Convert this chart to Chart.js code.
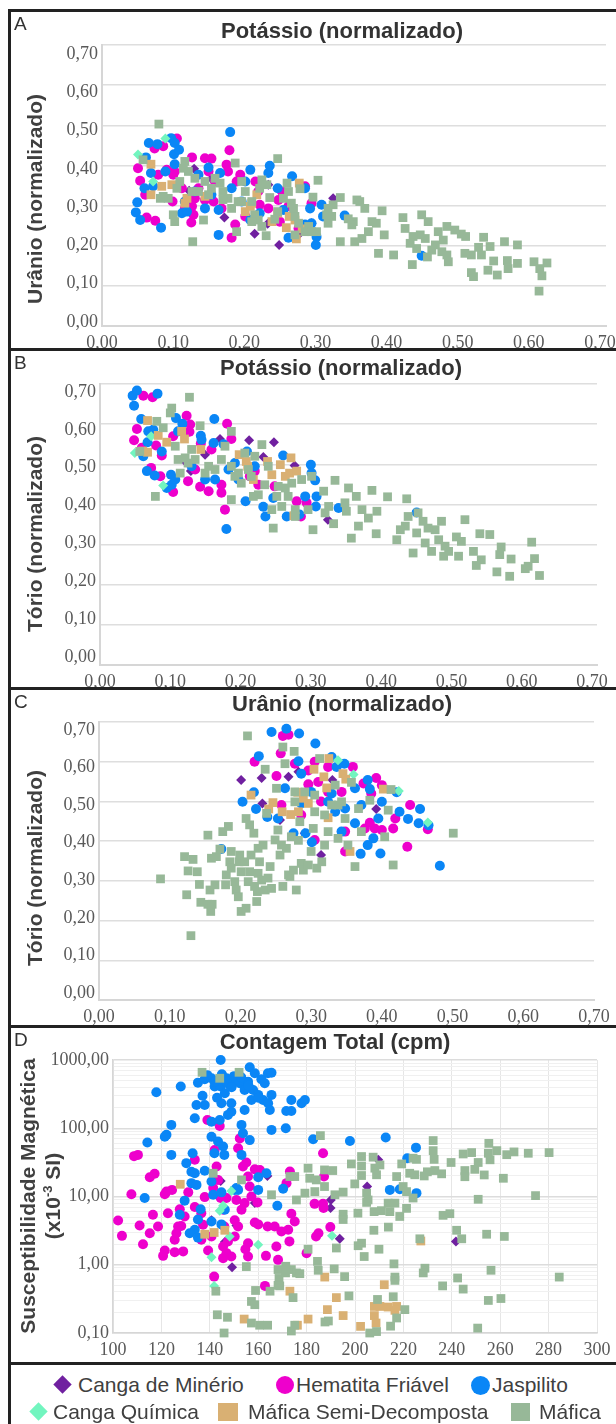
<!DOCTYPE html>
<html><head><meta charset="utf-8">
<script src="https://cdn.jsdelivr.net/npm/chart.js@4.4.0/dist/chart.umd.min.js"></script>
<style>
html,body{margin:0;padding:0;background:#fff;}
body{width:616px;height:1424px;overflow:hidden;position:relative;}
canvas{position:absolute;left:0;}
.bar{position:absolute;background:#222;z-index:5;}
.ttl{position:absolute;font:bold 22px "Liberation Sans",Arial,sans-serif;color:#333;white-space:nowrap;transform:translate(-50%,-50%);z-index:6;}
.ytl{position:absolute;font:bold 21px "Liberation Sans",Arial,sans-serif;color:#404040;white-space:nowrap;transform:translate(-50%,-50%) rotate(-90deg);text-align:center;z-index:6;}
.let{position:absolute;font:19px "Liberation Sans",Arial,sans-serif;color:#333;z-index:6;}
.lt{position:absolute;font:21px "Liberation Sans",Arial,sans-serif;color:#404040;white-space:nowrap;line-height:24px;z-index:6;}
.mk{position:absolute;z-index:6;}
</style></head><body>

<div class="bar" style="left:8px;top:9px;width:620px;height:3px"></div>
<div class="bar" style="left:8px;top:9px;width:3px;height:1420px"></div>
<div class="bar" style="left:8px;top:348px;width:620px;height:3px"></div>
<div class="bar" style="left:8px;top:687px;width:620px;height:3px"></div>
<div class="bar" style="left:8px;top:1025px;width:620px;height:3px"></div>
<div class="bar" style="left:8px;top:1362px;width:620px;height:3px"></div>

<canvas id="cA" width="640" height="344" style="top:12px;width:640px;height:344px"></canvas>
<canvas id="cB" width="640" height="340" style="top:351px;width:640px;height:340px"></canvas>
<canvas id="cC" width="640" height="340" style="top:690px;width:640px;height:340px"></canvas>
<canvas id="cD" width="640" height="338" style="top:1028px;width:640px;height:338px"></canvas>

<div class="let" style="left:14px;top:13px">A</div>
<div class="let" style="left:14px;top:352px">B</div>
<div class="let" style="left:14px;top:691px">C</div>
<div class="let" style="left:14px;top:1029px">D</div>

<div class="ttl" style="left:342px;top:31px">Potássio (normalizado)</div>
<div class="ttl" style="left:341px;top:368px">Potássio (normalizado)</div>
<div class="ttl" style="left:342px;top:704px">Urânio (normalizado)</div>
<div class="ttl" style="left:335px;top:1042px">Contagem Total (cpm)</div>

<div class="ytl" style="left:35px;top:199px">Urânio (normalizado)</div>
<div class="ytl" style="left:35px;top:534px">Tório (normalizado)</div>
<div class="ytl" style="left:35px;top:868px">Tório (normalizado)</div>
<div class="ytl" style="left:40px;top:1196px;line-height:25px">Susceptibilidade Magnética<br>(x10<sup style="font-size:13px;line-height:0">-3</sup> SI)</div>

<div class="mk" style="left:56px;top:1378px;width:13px;height:13px;background:#7020a0;transform:rotate(45deg)"></div>
<div class="lt" style="left:78px;top:1373px">Canga de Minério</div>
<div class="mk" style="left:276px;top:1376px;width:18px;height:18px;border-radius:50%;background:#ee00cc"></div>
<div class="lt" style="left:296px;top:1373px">Hematita Friável</div>
<div class="mk" style="left:471px;top:1376px;width:19px;height:19px;border-radius:50%;background:#0a86f6"></div>
<div class="lt" style="left:492px;top:1373px">Jaspilito</div>
<div class="mk" style="left:32px;top:1405px;width:13px;height:13px;background:#72f5bf;transform:rotate(45deg)"></div>
<div class="lt" style="left:53px;top:1400px">Canga Química</div>
<div class="mk" style="left:218px;top:1403px;width:20px;height:18px;background:#d9b073"></div>
<div class="lt" style="left:248px;top:1400px">Máfica Semi-Decomposta</div>
<div class="mk" style="left:511px;top:1403px;width:19px;height:18px;background:#97b898"></div>
<div class="lt" style="left:539px;top:1400px">Máfica</div>

<script>
// ---------- DATA ----------
const SERIES = ['Canga de Minério','Hematita Friável','Jaspilito','Canga Química','Máfica Semi-Decomposta','Máfica'];
const LIN_TICKS = [0,0.1,0.2,0.3,0.4,0.5,0.6,0.7];
const CT_TICKS = [100,120,140,160,180,200,220,240,260,280,300];
const MS_TICKS = [0.1,1,10,100,1000];

// Panel A: K (x) vs U (y)
const aMinerio = [[0.128,0.392],[0.121,0.337],[0.170,0.270],[0.212,0.230],[0.230,0.255],[0.246,0.202],[0.275,0.231],[0.291,0.256],[0.321,0.318],[0.152,0.367],[0.231,0.352]];
const aHematita = [[0.050,0.393],[0.053,0.362],[0.060,0.327],[0.062,0.270],[0.074,0.262],[0.073,0.442],[0.085,0.448],[0.078,0.377],[0.090,0.389],[0.098,0.310],[0.104,0.467],[0.101,0.385],[0.111,0.343],[0.125,0.420],[0.125,0.298],[0.127,0.277],[0.124,0.258],[0.134,0.343],[0.143,0.418],[0.152,0.417],[0.143,0.314],[0.155,0.310],[0.157,0.360],[0.173,0.402],[0.175,0.385],[0.177,0.438],[0.185,0.253],[0.180,0.220],[0.192,0.377],[0.213,0.360],[0.217,0.335],[0.219,0.302],[0.231,0.293],[0.245,0.314],[0.247,0.260],[0.259,0.298],[0.273,0.243],[0.282,0.348],[0.291,0.306],[0.099,0.377],[0.148,0.385],[0.166,0.293],[0.129,0.318],[0.199,0.273],[0.250,0.335],[0.187,0.360],[0.115,0.292]];
const aJaspilito = [[0.047,0.283],[0.049,0.308],[0.053,0.264],[0.059,0.343],[0.061,0.420],[0.065,0.456],[0.068,0.381],[0.077,0.453],[0.082,0.245],[0.071,0.348],[0.088,0.385],[0.096,0.468],[0.101,0.456],[0.101,0.403],[0.100,0.428],[0.107,0.439],[0.111,0.281],[0.115,0.310],[0.118,0.285],[0.134,0.377],[0.143,0.293],[0.148,0.395],[0.162,0.289],[0.162,0.227],[0.164,0.381],[0.178,0.483],[0.180,0.343],[0.194,0.310],[0.206,0.389],[0.206,0.264],[0.219,0.281],[0.231,0.381],[0.233,0.399],[0.244,0.343],[0.252,0.289],[0.259,0.220],[0.264,0.373],[0.282,0.343],[0.289,0.293],[0.291,0.256],[0.298,0.222],[0.297,0.202],[0.305,0.302],[0.307,0.273],[0.337,0.275],[0.444,0.175],[0.282,0.253],[0.129,0.335],[0.152,0.327],[0.199,0.360]];
const aQuimica = [[0.050,0.427],[0.088,0.467],[0.071,0.360]];
const aSemi = [[0.068,0.403],[0.083,0.348],[0.068,0.327],[0.097,0.352],[0.118,0.318],[0.115,0.306],[0.143,0.323],[0.199,0.285],[0.206,0.298],[0.208,0.306],[0.215,0.327],[0.244,0.281],[0.260,0.273],[0.268,0.264],[0.256,0.245],[0.274,0.356],[0.270,0.217],[0.278,0.242],[0.236,0.260]];
const aMafica = [[0.607,0.087],[0.611,0.125],[0.618,0.157],[0.600,0.160],[0.608,0.143],[0.577,0.202],[0.577,0.156],[0.564,0.143],[0.563,0.163],[0.559,0.210],[0.549,0.127],[0.536,0.139],[0.544,0.162],[0.539,0.198],[0.530,0.221],[0.527,0.177],[0.523,0.196],[0.516,0.123],[0.513,0.133],[0.513,0.177],[0.504,0.181],[0.505,0.223],[0.499,0.229],[0.490,0.239],[0.481,0.160],[0.479,0.177],[0.479,0.248],[0.474,0.214],[0.472,0.185],[0.467,0.235],[0.463,0.202],[0.458,0.189],[0.453,0.260],[0.452,0.172],[0.449,0.218],[0.444,0.277],[0.442,0.227],[0.437,0.193],[0.432,0.223],[0.431,0.153],[0.428,0.206],[0.421,0.243],[0.418,0.270],[0.405,0.177],[0.389,0.287],[0.392,0.227],[0.384,0.181],[0.381,0.256],[0.375,0.260],[0.370,0.235],[0.365,0.293],[0.361,0.218],[0.358,0.310],[0.354,0.314],[0.351,0.210],[0.349,0.260],[0.347,0.252],[0.342,0.267],[0.331,0.210],[0.331,0.320],[0.321,0.302],[0.319,0.273],[0.314,0.256],[0.300,0.363],[0.298,0.235],[0.293,0.321],[0.287,0.248],[0.275,0.342],[0.268,0.273],[0.266,0.293],[0.263,0.306],[0.259,0.335],[0.257,0.356],[0.252,0.318],[0.244,0.417],[0.244,0.285],[0.240,0.266],[0.233,0.320],[0.228,0.225],[0.222,0.364],[0.219,0.343],[0.217,0.264],[0.212,0.277],[0.208,0.310],[0.199,0.335],[0.194,0.360],[0.189,0.310],[0.185,0.406],[0.187,0.235],[0.180,0.293],[0.175,0.318],[0.168,0.335],[0.164,0.356],[0.157,0.368],[0.152,0.343],[0.148,0.327],[0.143,0.360],[0.141,0.264],[0.134,0.335],[0.129,0.368],[0.126,0.210],[0.120,0.385],[0.115,0.410],[0.113,0.393],[0.108,0.360],[0.104,0.343],[0.101,0.260],[0.099,0.277],[0.092,0.318],[0.085,0.323],[0.081,0.318],[0.079,0.503],[0.057,0.414],[0.314,0.293],[0.312,0.277],[0.222,0.248],[0.208,0.260],[0.229,0.352],[0.268,0.227],[0.282,0.235],[0.273,0.256],[0.291,0.235],[0.168,0.315],[0.194,0.310],[0.125,0.335]];

// Panel B: K (x) vs Th (y)
const bMinerio = [[0.169,0.563],[0.210,0.560],[0.245,0.555],[0.230,0.518],[0.274,0.497],[0.128,0.483],[0.321,0.362],[0.148,0.524],[0.120,0.507]];
const bHematita = [[0.061,0.671],[0.074,0.667],[0.052,0.588],[0.048,0.560],[0.059,0.541],[0.072,0.491],[0.085,0.470],[0.103,0.431],[0.079,0.547],[0.087,0.522],[0.122,0.621],[0.127,0.599],[0.126,0.581],[0.124,0.458],[0.141,0.444],[0.153,0.433],[0.142,0.552],[0.157,0.537],[0.179,0.601],[0.185,0.563],[0.171,0.449],[0.176,0.387],[0.171,0.429],[0.211,0.470],[0.218,0.483],[0.223,0.449],[0.246,0.445],[0.277,0.408],[0.283,0.370],[0.291,0.404],[0.103,0.570],[0.134,0.487]];
const bJaspilito = [[0.046,0.671],[0.052,0.684],[0.081,0.676],[0.048,0.646],[0.058,0.613],[0.068,0.582],[0.075,0.586],[0.067,0.555],[0.061,0.520],[0.066,0.483],[0.077,0.472],[0.087,0.532],[0.094,0.441],[0.101,0.449],[0.107,0.615],[0.116,0.601],[0.110,0.582],[0.100,0.474],[0.106,0.462],[0.129,0.495],[0.142,0.571],[0.143,0.561],[0.148,0.462],[0.161,0.613],[0.160,0.553],[0.162,0.462],[0.174,0.550],[0.178,0.339],[0.190,0.503],[0.205,0.408],[0.207,0.532],[0.218,0.495],[0.230,0.394],[0.233,0.370],[0.244,0.416],[0.258,0.522],[0.263,0.370],[0.281,0.375],[0.289,0.420],[0.297,0.499],[0.298,0.478],[0.303,0.460],[0.305,0.420],[0.304,0.395],[0.336,0.391],[0.446,0.380],[0.181,0.487],[0.195,0.462]];
const bQuimica = [[0.049,0.528],[0.089,0.447],[0.072,0.570]];
const bSemi = [[0.067,0.609],[0.082,0.572],[0.094,0.555],[0.067,0.530],[0.060,0.533],[0.115,0.582],[0.119,0.563],[0.142,0.537],[0.196,0.524],[0.206,0.507],[0.208,0.495],[0.216,0.462],[0.236,0.507],[0.242,0.474],[0.254,0.499],[0.261,0.470],[0.269,0.516],[0.267,0.478],[0.277,0.483],[0.273,0.372]];
const bMafica = [[0.619,0.223],[0.608,0.306],[0.612,0.265],[0.603,0.246],[0.599,0.240],[0.577,0.221],[0.559,0.232],[0.579,0.264],[0.565,0.294],[0.563,0.275],[0.549,0.325],[0.537,0.262],[0.530,0.248],[0.535,0.327],[0.526,0.283],[0.514,0.362],[0.509,0.308],[0.505,0.271],[0.502,0.319],[0.491,0.283],[0.486,0.296],[0.484,0.271],[0.481,0.358],[0.477,0.312],[0.472,0.337],[0.467,0.283],[0.462,0.341],[0.458,0.304],[0.455,0.358],[0.448,0.379],[0.446,0.329],[0.441,0.279],[0.434,0.370],[0.430,0.346],[0.423,0.337],[0.418,0.312],[0.432,0.414],[0.405,0.419],[0.389,0.327],[0.390,0.383],[0.383,0.435],[0.378,0.366],[0.369,0.387],[0.364,0.346],[0.361,0.420],[0.354,0.316],[0.350,0.441],[0.347,0.383],[0.345,0.404],[0.331,0.460],[0.329,0.352],[0.322,0.395],[0.317,0.379],[0.315,0.433],[0.300,0.337],[0.298,0.470],[0.293,0.387],[0.275,0.387],[0.270,0.453],[0.265,0.420],[0.261,0.441],[0.256,0.395],[0.249,0.420],[0.244,0.341],[0.237,0.495],[0.232,0.449],[0.228,0.549],[0.223,0.424],[0.218,0.520],[0.213,0.470],[0.209,0.487],[0.204,0.528],[0.199,0.453],[0.195,0.478],[0.190,0.470],[0.185,0.412],[0.185,0.582],[0.176,0.545],[0.171,0.512],[0.162,0.487],[0.153,0.495],[0.148,0.478],[0.141,0.596],[0.134,0.512],[0.129,0.537],[0.124,0.503],[0.120,0.516],[0.113,0.478],[0.110,0.512],[0.106,0.545],[0.099,0.628],[0.101,0.640],[0.126,0.667],[0.089,0.591],[0.080,0.607],[0.078,0.420],[0.056,0.532],[0.242,0.387],[0.251,0.445],[0.284,0.462],[0.216,0.420],[0.275,0.370],[0.185,0.495]];

// Panel C: U (x) vs Th (y)
const cMinerio = [[0.201,0.554],[0.230,0.559],[0.268,0.562],[0.231,0.495],[0.256,0.453],[0.291,0.420],[0.314,0.365],[0.392,0.481],[0.282,0.575],[0.330,0.554]];
const cHematita = [[0.220,0.600],[0.257,0.621],[0.260,0.665],[0.268,0.668],[0.251,0.564],[0.277,0.595],[0.296,0.578],[0.305,0.600],[0.310,0.549],[0.324,0.587],[0.343,0.524],[0.359,0.587],[0.392,0.559],[0.400,0.541],[0.385,0.520],[0.374,0.545],[0.440,0.491],[0.419,0.457],[0.416,0.432],[0.400,0.428],[0.390,0.432],[0.376,0.432],[0.383,0.446],[0.436,0.386],[0.465,0.430],[0.305,0.403],[0.348,0.374],[0.296,0.543],[0.258,0.491],[0.314,0.500],[0.324,0.524],[0.348,0.424],[0.286,0.466]];
const cJaspilito = [[0.244,0.675],[0.265,0.683],[0.283,0.671],[0.306,0.646],[0.226,0.614],[0.282,0.601],[0.286,0.570],[0.329,0.612],[0.336,0.587],[0.347,0.595],[0.263,0.533],[0.219,0.523],[0.203,0.499],[0.222,0.481],[0.238,0.461],[0.253,0.457],[0.286,0.495],[0.275,0.420],[0.292,0.420],[0.301,0.397],[0.324,0.499],[0.329,0.520],[0.343,0.424],[0.348,0.482],[0.362,0.445],[0.371,0.491],[0.380,0.554],[0.383,0.531],[0.395,0.457],[0.400,0.499],[0.388,0.407],[0.380,0.390],[0.370,0.368],[0.398,0.369],[0.421,0.523],[0.425,0.474],[0.437,0.456],[0.454,0.481],[0.452,0.445],[0.466,0.440],[0.482,0.338],[0.173,0.380],[0.300,0.524],[0.334,0.474],[0.362,0.533]];
const cQuimica = [[0.338,0.604],[0.360,0.568],[0.424,0.526],[0.465,0.447]];
const cSemi = [[0.215,0.516],[0.240,0.481],[0.246,0.497],[0.259,0.474],[0.271,0.467],[0.282,0.474],[0.281,0.523],[0.296,0.495],[0.304,0.581],[0.318,0.562],[0.322,0.534],[0.325,0.608],[0.324,0.459],[0.345,0.570],[0.349,0.556],[0.355,0.374],[0.402,0.531],[0.289,0.508]];
const cMafica = [[0.130,0.162],[0.087,0.305],[0.124,0.265],[0.121,0.361],[0.133,0.354],[0.126,0.325],[0.139,0.323],[0.144,0.246],[0.142,0.291],[0.154,0.415],[0.158,0.223],[0.154,0.241],[0.160,0.241],[0.159,0.357],[0.157,0.277],[0.164,0.290],[0.166,0.361],[0.171,0.380],[0.175,0.424],[0.179,0.290],[0.180,0.315],[0.183,0.437],[0.185,0.348],[0.187,0.374],[0.187,0.332],[0.192,0.298],[0.194,0.277],[0.197,0.260],[0.198,0.348],[0.199,0.365],[0.201,0.223],[0.201,0.323],[0.206,0.348],[0.208,0.231],[0.208,0.457],[0.210,0.665],[0.211,0.298],[0.213,0.441],[0.213,0.323],[0.215,0.365],[0.219,0.420],[0.220,0.286],[0.223,0.248],[0.224,0.273],[0.225,0.319],[0.225,0.382],[0.227,0.348],[0.230,0.302],[0.232,0.390],[0.235,0.277],[0.235,0.581],[0.237,0.470],[0.239,0.307],[0.242,0.336],[0.244,0.281],[0.249,0.403],[0.251,0.533],[0.253,0.428],[0.256,0.365],[0.258,0.390],[0.260,0.637],[0.260,0.286],[0.263,0.595],[0.265,0.382],[0.268,0.315],[0.270,0.311],[0.272,0.411],[0.275,0.327],[0.276,0.626],[0.279,0.277],[0.282,0.402],[0.284,0.449],[0.286,0.344],[0.289,0.327],[0.291,0.524],[0.296,0.340],[0.300,0.374],[0.303,0.432],[0.305,0.516],[0.308,0.332],[0.312,0.608],[0.315,0.348],[0.319,0.390],[0.319,0.466],[0.324,0.424],[0.329,0.491],[0.334,0.541],[0.338,0.407],[0.343,0.499],[0.348,0.457],[0.352,0.390],[0.357,0.548],[0.362,0.336],[0.367,0.482],[0.371,0.424],[0.383,0.503],[0.404,0.411],[0.409,0.478],[0.416,0.340],[0.413,0.530],[0.501,0.420],[0.277,0.499],[0.305,0.474],[0.338,0.491],[0.277,0.524]];

// Panel D: Contagem Total (x, cpm) vs Susceptibilidade (y, x10^-3 SI)
const dMinerio = [[144.5,16.9],[158.6,8.0],[151.0,3.77],[149.2,0.92],[163.8,20],[190.0,8.9],[189.9,6.8],[193.7,2.4],[205.0,14],[241.7,2.19],[140.7,4.5],[209.6,34.5],[146.2,2.15]];
const dHematita = [[102.1,4.46],[103.7,2.65],[108.7,39],[110.3,40.7],[107.6,10.8],[115.2,19.2],[117.2,21.5],[111.0,3.77],[112.4,2.0],[116.5,5.4],[118.6,3.64],[115.2,2.9],[121.4,10.8],[122.1,11.8],[124.4,12.5],[122.7,5.7],[121.4,1.62],[120.7,1.35],[125.5,2.32],[126.2,2.9],[129.0,1.57],[125.5,1.53],[127.6,6.5],[129.6,5.1],[128.2,3.7],[126.9,3.64],[131.1,11.5],[133.8,7.0],[133.8,34.5],[137.9,9.8],[139.0,132],[137.2,3.85],[136.5,2.32],[139.3,1.62],[140.7,2.6],[142.0,48],[144.1,108],[142.8,27.5],[143.4,17.5],[144.5,9.5],[145.5,6.4],[146.0,3.64],[145.5,1.85],[145.5,1.25],[146.9,1.48],[147.5,2.19],[141.8,0.67],[148.9,1.32],[150.3,2.6],[151.7,3.64],[151.0,8.9],[153.1,6.4],[152.4,71],[151.7,51],[153.7,27.5],[155.1,31.5],[155.8,19.6],[157.2,10],[156.5,14],[154.4,8],[158.6,4.17],[160.0,3.9],[155.8,2.07],[155.8,1.32],[154.7,1.69],[160.7,24.5],[158.6,25],[159.7,8.2],[163.9,3.64],[163.2,1.35],[162.8,0.49],[167.5,1.85],[168.2,1.18],[166.8,3.64],[169.6,3.07],[172.4,3.25],[173.7,5.6],[175.1,4.3],[172.9,2.2],[180.0,1.48],[171.7,15.7],[173.1,23.2],[186.8,43],[187.2,19.6],[183.3,7.8],[186.8,7.8],[187.0,6.8],[189.8,3.56],[183.9,2.6],[184.9,2.9],[141.4,13.3],[136.5,5.7],[150.3,4.5],[146.9,9.5]];
const dJaspilito = [[144.5,1000],[156.5,782],[158.6,638],[161.3,521],[164.0,638],[165.5,650],[162.7,456],[135.1,466],[137.9,521],[140.7,540],[142.0,408],[144.5,408],[146.9,540],[148.2,431],[150.3,509],[152.4,456],[154.4,364],[155.8,482],[157.9,364],[160.0,308],[162.0,260],[165.5,308],[164.1,232],[164.8,185],[157.2,260],[154.4,185],[146.2,325],[144.8,232],[148.9,232],[148.9,175],[147.5,157],[144.1,132],[140.7,125],[137.9,219],[134.5,219],[133.8,140],[128.0,408],[117.9,336],[124.1,112],[122.1,80],[121.4,75],[114.2,62],[124.1,40.7],[130.3,30.8],[132.9,43],[132.4,23],[140.7,75],[143.4,64],[145.5,54],[146.0,40.7],[141.9,43],[153.1,112],[153.7,84.5],[156.5,67],[153.1,40.7],[165.5,94.6],[171.4,100],[173.7,260],[173.7,179],[171.6,179],[177.9,232],[179.3,260],[182.7,69],[197.9,65],[212.7,73],[225.2,52],[221.6,36.4],[214.4,12.5],[218.5,12.8],[225.4,11.2],[113.1,9.5],[129.6,8.7],[127.6,5.4],[133.8,21.9],[137.9,23.8],[132.4,15.7],[134.5,14.8],[140.7,16.6],[141.4,10.6],[144.8,11.5],[151.7,12.5],[160.0,19.2],[163.4,21.9],[160.0,12.5],[170.3,13.0],[167.9,7.3],[136.2,6.5],[146.2,6.4],[135.1,4.6],[140.7,4.3],[144.8,3.9],[133.8,3.25],[131.7,2.9],[135.1,2.5],[150.3,12.5],[151.0,13.3],[139.0,600],[142.0,480],[147.0,470],[150.0,580],[153.0,560],[145.0,620],[149.0,400],[156.0,420],[160.0,280],[137.0,300],[143.0,280]];
const dQuimica = [[144.1,6.2],[145.5,7.3],[148.9,12.0],[148.2,2.6],[160.0,1.96],[140.7,1.29],[141.8,0.49],[190.5,2.65]];
const dSemi = [[127.8,15.1],[137.9,2.8],[141.8,2.97],[146.2,3.2],[227.2,2.23],[187.5,0.66],[173.1,0.41],[192.3,0.33],[188.6,0.22],[212.1,0.51],[208.0,0.245],[210.3,0.245],[213.7,0.24],[217.2,0.245],[216.5,0.215],[208.0,0.18],[208.7,0.14],[195.1,0.18],[180.6,0.16],[176.2,0.13],[154.2,0.16],[202.3,0.125]];
const dMafica = [[136.8,660],[144.1,540],[152.1,660],[141.4,21.9],[153.1,17.5],[185.7,78],[180.6,26],[173.1,19.6],[175.1,19.6],[181.3,18.5],[184.0,17.5],[187.4,24.5],[190.8,24],[187.4,14],[183.4,11.8],[179.3,11.2],[175.8,8.9],[165.5,10.6],[191.7,10.6],[195.1,11.6],[198.5,30],[202.7,38.5],[202.7,28],[202.7,20.3],[199.9,15.3],[207.5,37.7],[208.2,26],[208.9,20.8],[210.3,29],[204.8,11.2],[205.4,8.9],[204.8,8.2],[207.9,6.0],[210.9,6.2],[213.7,8.0],[214.4,6.0],[216.5,8.0],[217.2,19.6],[219.3,30],[219.9,14],[221.3,11.8],[222.6,21.9],[224.0,9.5],[224.0,36.4],[225.4,35],[224.7,20.8],[221.3,6.7],[218.5,5.1],[228.6,20],[229.9,23],[232.3,66],[232.3,47],[232.7,35],[233.0,24],[235.8,21.5],[239.7,31.5],[244.7,42],[248.2,44],[245.4,24],[245.4,19.5],[249.5,25],[253.4,20.7],[250.9,31.5],[255.3,60],[255.1,43],[255.8,34.5],[258.6,47],[262.7,41],[265.7,45],[271.6,43],[280.2,44],[261.3,18.5],[274.6,10.3],[250.9,9.1],[236.4,5.3],[239.2,5.6],[242.0,3.2],[244.1,2.4],[254.4,2.8],[261.7,2.6],[226.8,2.4],[201.2,5.7],[195.1,5.5],[195.1,4.6],[207.8,3.2],[213.8,3.56],[202.7,2.07],[201.3,1.9],[209.9,1.69],[203.8,1.32],[192.3,1.76],[180.6,1.69],[228.9,0.89],[228.2,0.76],[216.1,1.03],[216.5,0.66],[216.5,0.59],[242.4,0.64],[236.2,0.49],[244.7,0.44],[256.2,0.83],[284.4,0.66],[255.1,0.30],[260.3,0.32],[220.6,0.22],[215.8,0.34],[209.3,0.31],[217.2,0.166],[214.7,0.126],[208.9,0.105],[206.1,0.1],[250.7,0.118],[184.5,1.12],[184.8,0.83],[191.4,0.87],[195.7,0.67],[197.5,0.35],[189.0,0.15],[187.6,0.145],[174.4,0.33],[173.7,0.85],[171.4,0.95],[168.2,0.85],[168.6,0.63],[171.3,0.76],[175.8,0.76],[177.2,0.74],[168.2,0.5],[168.9,0.49],[164.9,0.41],[158.9,0.42],[157.2,0.29],[158.6,0.26],[155.1,0.94],[142.5,0.41],[143.1,0.185],[147.3,0.17],[145.9,0.1],[157.2,0.14],[160.6,0.13],[163.9,0.13],[173.7,0.107],[175.1,0.13]];

// ---------- STYLE ----------
const COL = ['#7020a0','#ee00cc','#0a86f6','#72f5bf','#d9b073','#97b898'];
const STY = ['rectRot','circle','circle','rectRot','rect','rect'];
const RAD = [5,5,5,5,6.2,6.2];
const ORD = [6,5,4,3,2,1];
const TICKFONT = {family:'"Liberation Serif", "Times New Roman", serif', size:18};
const fmt2 = v => Number(v).toFixed(2).replace('.', ',');

function makeSets(groups){
  return groups.map((pts,i)=>({
    label:SERIES[i], data:pts.map(p=>({x:p[0],y:p[1]})),
    backgroundColor:COL[i], borderWidth:0, pointStyle:STY[i],
    pointRadius:RAD[i], pointHoverRadius:RAD[i], order:ORD[i], clip:false
  }));
}

// data axes (x,y) carry the marks and gridlines; label axes (xl,yl) carry the tick labels
function linScales(g){
  const setT = s=>{s.ticks=LIN_TICKS.map(v=>({value:v}));};
  const plotH = g.plotBottom-g.plotTop, plotW = g.right-g.left;
  const yPer = (g.yl0-g.yl7)/0.7, xPer = (g.xl7-g.left)/0.7;
  return {
    x:{type:'linear',position:'bottom',weight:1,min:0,max:0.7,afterBuildTicks:setT,
      ticks:{display:false},grid:{display:false,drawTicks:false},border:{display:false},
      afterFit:s=>{s.height=0;}},
    y:{type:'linear',position:'left',weight:1,min:0,max:0.7,afterBuildTicks:setT,
      ticks:{display:false},grid:{color:'#dedede',lineWidth:1.5,drawTicks:false},border:{display:false},
      afterFit:s=>{s.width=0;}},
    xl:{type:'linear',position:'bottom',weight:0,min:0,max:plotW/xPer,afterBuildTicks:setT,
      ticks:{color:'#595959',font:TICKFONT,padding:6,maxRotation:0,autoSkip:false,callback:v=>fmt2(v)},
      grid:{display:false,drawTicks:false},border:{display:true,color:'#d6d6d6',width:2},
      afterFit:s=>{s.height=g.xh;}},
    yl:{type:'linear',position:'left',weight:0,
      min:-(g.plotBottom-g.yl0)/yPer, max:0.7+(g.yl7-g.plotTop)/yPer, afterBuildTicks:setT,
      ticks:{color:'#595959',font:TICKFONT,padding:4,autoSkip:false,callback:v=>fmt2(v)},
      grid:{display:false,drawTicks:false},border:{display:true,color:'#d6d6d6',width:2},
      afterFit:s=>{s.width=g.yw;}}
  };
}
const isMajor = v => { const l=Math.log10(v); return Math.abs(l-Math.round(l))<1e-6; };
function logScales(g){
  return {
    x:{type:'linear',min:100,max:300,
      afterBuildTicks:s=>{s.ticks=CT_TICKS.map(v=>({value:v}));},
      ticks:{color:'#595959',font:TICKFONT,padding:6,maxRotation:0,autoSkip:false,callback:v=>String(Math.round(v))},
      grid:{color:'#e6e6e6',lineWidth:1,drawTicks:false},border:{display:true,color:'#d6d6d6',width:1.5},
      afterFit:s=>{s.height=g.xh;}},
    y:{type:'logarithmic',min:0.1,max:1000,
      afterBuildTicks:s=>{
        const t=[];
        for(let e=0;e<MS_TICKS.length-1;e++){ for(let m=1;m<=9;m++){ t.push({value:m*MS_TICKS[e]}); } }
        t.push({value:MS_TICKS[MS_TICKS.length-1]});
        s.ticks=t;
      },
      ticks:{color:'#595959',font:TICKFONT,padding:4,autoSkip:false,callback:v=>isMajor(v)?fmt2(v):''},
      grid:{color:c=>isMajor(c.tick.value)?'#dcdcdc':'#f0f0f0',lineWidth:c=>isMajor(c.tick.value)?1.5:1,drawTicks:false},
      border:{display:true,color:'#d6d6d6',width:1.5},
      afterFit:s=>{s.width=g.yw;}}
  };
}

function build(id, g, groups, scales){
  const W=640;
  new Chart(document.getElementById(id),{
    type:'scatter',
    data:{datasets:makeSets(groups)},
    options:{
      responsive:false, animation:false, devicePixelRatio:1,
      layout:{padding:{left:0,top:g.plotTop-g.top,right:W-g.right,bottom:0}},
      plugins:{legend:{display:false},tooltip:{enabled:false},title:{display:false}},
      scales:scales
    }
  });
}

// plot boxes (page px) and where the printed tick labels sit
const GA={top:12,h:344,plotTop:45,plotBottom:326,left:102,right:606,yl7:54,yl0:322,xl7:600};
const GB={top:351,h:340,plotTop:384,plotBottom:665,left:100,right:597,yl7:392,yl0:657,xl7:592};
const GC={top:690,h:340,plotTop:722,plotBottom:1000,left:99,right:594,yl7:730,yl0:993,xl7:594};
const GD={top:1028,h:338,plotTop:1060,plotBottom:1333,left:113,right:597};
[GA,GB,GC,GD].forEach(g=>{g.xh=g.top+g.h-g.plotBottom; g.yw=g.left;});

build('cA',GA,[aMinerio,aHematita,aJaspilito,aQuimica,aSemi,aMafica],linScales(GA));
build('cB',GB,[bMinerio,bHematita,bJaspilito,bQuimica,bSemi,bMafica],linScales(GB));
build('cC',GC,[cMinerio,cHematita,cJaspilito,cQuimica,cSemi,cMafica],linScales(GC));
build('cD',GD,[dMinerio,dHematita,dJaspilito,dQuimica,dSemi,dMafica],logScales(GD));
</script>
</body></html>
